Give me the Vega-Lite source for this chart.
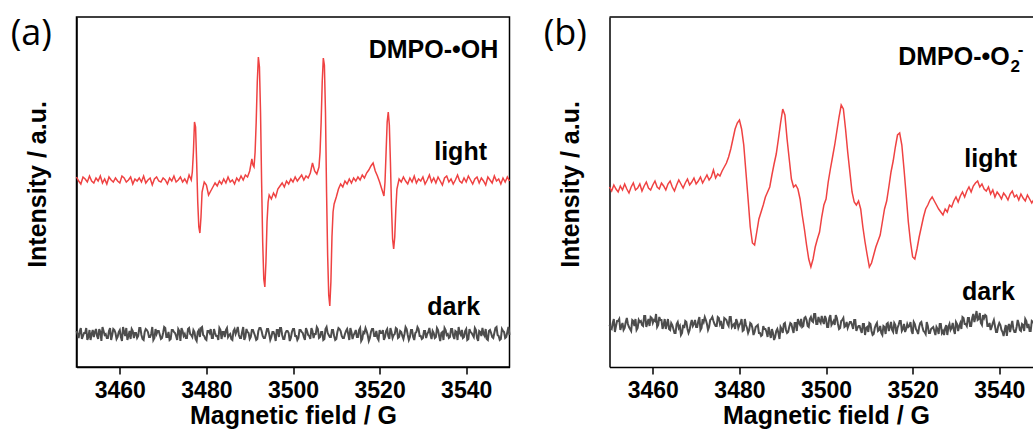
{
"$schema": "https://vega.github.io/schema/vega-lite/v6.json",
"background": "white",
"padding": {"left": 9.5, "top": 15, "right": 0, "bottom": 0},
"autosize": {"type": "pad"},
"spacing": 100,
"bounds": "flush",
"config": {
  "font": "Liberation Sans",
  "view": {"stroke": null},
  "axis": {"grid": false, "domainColor": "black", "domainWidth": 1.5, "tickColor": "black", "tickWidth": 1.5, "labelColor": "black", "titleColor": "black", "titleFont": "Liberation Sans", "labelFont": "Liberation Sans", "titleFontSize": 25, "titleFontWeight": "bold", "labelFontSize": 23, "labelFontWeight": "bold"},
  "axisX": {"tickSize": 7, "labelPadding": 5, "titleY": 36, "titleX": 216.5, "titleAlign": "center", "titleBaseline": "top"},
  "axisY": {"labels": false, "ticks": false, "titleX": -26, "titleY": 167, "titleBaseline": "bottom", "titleAlign": "center", "titleAngle": -90}
},
"datasets": {
"aL": [{"x":3450,"y":190},{"x":3450.5,"y":186},{"x":3451,"y":183},{"x":3451.5,"y":190},{"x":3452,"y":188},{"x":3452.5,"y":185},{"x":3453,"y":191},{"x":3453.5,"y":186},{"x":3454,"y":184},{"x":3454.5,"y":189},{"x":3455,"y":186},{"x":3455.5,"y":191},{"x":3456,"y":184},{"x":3456.5,"y":188},{"x":3457,"y":183},{"x":3457.5,"y":190},{"x":3458,"y":187},{"x":3458.5,"y":185},{"x":3459,"y":189},{"x":3459.5,"y":186},{"x":3460,"y":184},{"x":3460.5,"y":191},{"x":3461,"y":189},{"x":3461.5,"y":185},{"x":3462,"y":187},{"x":3462.5,"y":190},{"x":3463,"y":183},{"x":3463.5,"y":188},{"x":3464,"y":186},{"x":3464.5,"y":189},{"x":3465,"y":185},{"x":3465.5,"y":191},{"x":3466,"y":184},{"x":3466.5,"y":187},{"x":3467,"y":189},{"x":3467.5,"y":182},{"x":3468,"y":188},{"x":3468.5,"y":190},{"x":3469,"y":186},{"x":3469.5,"y":185},{"x":3470,"y":189},{"x":3470.5,"y":187},{"x":3471,"y":183},{"x":3471.5,"y":189},{"x":3472,"y":186},{"x":3472.5,"y":191},{"x":3473,"y":185},{"x":3473.5,"y":187},{"x":3474,"y":190},{"x":3474.5,"y":185},{"x":3475,"y":188},{"x":3475.5,"y":184},{"x":3476,"y":192},{"x":3476.5,"y":187},{"x":3476.75,"y":195},{"x":3477,"y":215},{"x":3477.25,"y":245},{"x":3477.5,"y":240},{"x":3477.75,"y":205},{"x":3478,"y":165},{"x":3478.25,"y":140},{"x":3478.5,"y":134},{"x":3478.75,"y":150},{"x":3479,"y":175},{"x":3479.5,"y":185},{"x":3480,"y":182},{"x":3480.5,"y":172},{"x":3481,"y":176},{"x":3481.5,"y":180},{"x":3482,"y":184},{"x":3482.5,"y":181},{"x":3483,"y":186},{"x":3483.5,"y":183},{"x":3484,"y":188},{"x":3484.5,"y":184},{"x":3485,"y":190},{"x":3485.5,"y":185},{"x":3486,"y":187},{"x":3486.5,"y":183},{"x":3487,"y":189},{"x":3487.5,"y":186},{"x":3488,"y":191},{"x":3488.5,"y":187},{"x":3489,"y":192},{"x":3489.5,"y":190},{"x":3490,"y":196},{"x":3490.5,"y":208},{"x":3490.75,"y":202},{"x":3491,"y":200},{"x":3491.25,"y":215},{"x":3491.5,"y":245},{"x":3491.75,"y":285},{"x":3492,"y":310},{"x":3492.25,"y":300},{"x":3492.5,"y":255},{"x":3492.75,"y":185},{"x":3493,"y":125},{"x":3493.25,"y":88},{"x":3493.5,"y":80},{"x":3493.75,"y":105},{"x":3494,"y":145},{"x":3494.25,"y":165},{"x":3494.5,"y":172},{"x":3495,"y":168},{"x":3495.5,"y":174},{"x":3496,"y":170},{"x":3496.5,"y":178},{"x":3497,"y":181},{"x":3497.5,"y":184},{"x":3498,"y":180},{"x":3498.5,"y":186},{"x":3499,"y":183},{"x":3499.5,"y":188},{"x":3500,"y":185},{"x":3500.5,"y":190},{"x":3501,"y":186},{"x":3501.5,"y":189},{"x":3502,"y":192},{"x":3502.5,"y":187},{"x":3503,"y":191},{"x":3503.5,"y":189},{"x":3504,"y":194},{"x":3504.5,"y":204},{"x":3505,"y":196},{"x":3505.5,"y":193},{"x":3506,"y":200},{"x":3506.25,"y":215},{"x":3506.5,"y":245},{"x":3506.75,"y":285},{"x":3507,"y":309},{"x":3507.25,"y":302},{"x":3507.5,"y":255},{"x":3507.75,"y":175},{"x":3508,"y":112},{"x":3508.25,"y":72},{"x":3508.5,"y":61},{"x":3508.75,"y":85},{"x":3509,"y":130},{"x":3509.25,"y":155},{"x":3509.5,"y":163},{"x":3510,"y":170},{"x":3510.5,"y":178},{"x":3511,"y":183},{"x":3511.5,"y":180},{"x":3512,"y":186},{"x":3512.5,"y":183},{"x":3513,"y":188},{"x":3513.5,"y":184},{"x":3514,"y":189},{"x":3514.5,"y":186},{"x":3515,"y":190},{"x":3515.5,"y":187},{"x":3516,"y":192},{"x":3516.5,"y":189},{"x":3517,"y":194},{"x":3517.5,"y":197},{"x":3518,"y":201},{"x":3518.5,"y":204},{"x":3519,"y":196},{"x":3519.5,"y":191},{"x":3520,"y":185},{"x":3520.5,"y":178},{"x":3521,"y":171},{"x":3521.25,"y":185},{"x":3521.5,"y":215},{"x":3521.75,"y":245},{"x":3522,"y":255},{"x":3522.25,"y":242},{"x":3522.5,"y":205},{"x":3522.75,"y":160},{"x":3523,"y":128},{"x":3523.25,"y":118},{"x":3523.5,"y":130},{"x":3523.75,"y":158},{"x":3524,"y":178},{"x":3524.5,"y":188},{"x":3525,"y":185},{"x":3525.5,"y":190},{"x":3526,"y":186},{"x":3526.5,"y":183},{"x":3527,"y":189},{"x":3527.5,"y":185},{"x":3528,"y":191},{"x":3528.5,"y":184},{"x":3529,"y":188},{"x":3529.5,"y":186},{"x":3530,"y":190},{"x":3530.5,"y":183},{"x":3531,"y":187},{"x":3531.5,"y":192},{"x":3532,"y":185},{"x":3532.5,"y":189},{"x":3533,"y":184},{"x":3533.5,"y":190},{"x":3534,"y":186},{"x":3534.5,"y":182},{"x":3535,"y":189},{"x":3535.5,"y":191},{"x":3536,"y":185},{"x":3536.5,"y":188},{"x":3537,"y":183},{"x":3537.5,"y":187},{"x":3538,"y":192},{"x":3538.5,"y":186},{"x":3539,"y":184},{"x":3539.5,"y":189},{"x":3540,"y":185},{"x":3540.5,"y":191},{"x":3541,"y":187},{"x":3541.5,"y":183},{"x":3542,"y":188},{"x":3542.5,"y":190},{"x":3543,"y":184},{"x":3543.5,"y":189},{"x":3544,"y":186},{"x":3544.5,"y":182},{"x":3545,"y":190},{"x":3545.5,"y":187},{"x":3546,"y":184},{"x":3546.5,"y":191},{"x":3547,"y":186},{"x":3547.5,"y":188},{"x":3548,"y":183},{"x":3548.5,"y":189},{"x":3549,"y":185},{"x":3549.5,"y":190},{"x":3550,"y":186}],
"aD": [{"x":3450,"y":36},{"x":3450.25,"y":33},{"x":3450.5,"y":29},{"x":3450.75,"y":36},{"x":3451,"y":39},{"x":3451.25,"y":28},{"x":3451.5,"y":31},{"x":3451.75,"y":34},{"x":3452,"y":34},{"x":3452.25,"y":39},{"x":3452.5,"y":27},{"x":3452.75,"y":30},{"x":3453,"y":37},{"x":3453.25,"y":27},{"x":3453.5,"y":33},{"x":3453.75,"y":37},{"x":3454,"y":30},{"x":3454.25,"y":35},{"x":3454.5,"y":38},{"x":3454.75,"y":31},{"x":3455,"y":28},{"x":3455.25,"y":38},{"x":3455.5,"y":35},{"x":3455.75,"y":26},{"x":3456,"y":40},{"x":3456.25,"y":36},{"x":3456.5,"y":32},{"x":3456.75,"y":33},{"x":3457,"y":29},{"x":3457.25,"y":29},{"x":3457.5,"y":36},{"x":3457.75,"y":39},{"x":3458,"y":27},{"x":3458.25,"y":32},{"x":3458.5,"y":38},{"x":3458.75,"y":37},{"x":3459,"y":34},{"x":3459.25,"y":28},{"x":3459.5,"y":30},{"x":3459.75,"y":35},{"x":3460,"y":37},{"x":3460.25,"y":30},{"x":3460.5,"y":26},{"x":3460.75,"y":40},{"x":3461,"y":35},{"x":3461.25,"y":31},{"x":3461.5,"y":39},{"x":3461.75,"y":27},{"x":3462,"y":31},{"x":3462.25,"y":36},{"x":3462.5,"y":28},{"x":3462.75,"y":38},{"x":3463,"y":36},{"x":3463.25,"y":29},{"x":3463.5,"y":34},{"x":3463.75,"y":34},{"x":3464,"y":29},{"x":3464.25,"y":31},{"x":3464.5,"y":39},{"x":3464.75,"y":39},{"x":3465,"y":32},{"x":3465.25,"y":28},{"x":3465.5,"y":27},{"x":3465.75,"y":35},{"x":3466,"y":38},{"x":3466.25,"y":37},{"x":3466.5,"y":35},{"x":3466.75,"y":30},{"x":3467,"y":30},{"x":3467.25,"y":33},{"x":3467.5,"y":40},{"x":3467.75,"y":27},{"x":3468,"y":29},{"x":3468.25,"y":38},{"x":3468.5,"y":33},{"x":3468.75,"y":36},{"x":3469,"y":36},{"x":3469.25,"y":32},{"x":3469.5,"y":28},{"x":3469.75,"y":29},{"x":3470,"y":34},{"x":3470.25,"y":40},{"x":3470.5,"y":39},{"x":3470.75,"y":30},{"x":3471,"y":30},{"x":3471.25,"y":35},{"x":3471.5,"y":27},{"x":3471.75,"y":28},{"x":3472,"y":37},{"x":3472.25,"y":37},{"x":3472.5,"y":35},{"x":3472.75,"y":34},{"x":3473,"y":31},{"x":3473.25,"y":27},{"x":3473.5,"y":38},{"x":3473.75,"y":36},{"x":3474,"y":26},{"x":3474.25,"y":39},{"x":3474.5,"y":36},{"x":3474.75,"y":31},{"x":3475,"y":33},{"x":3475.25,"y":29},{"x":3475.5,"y":29},{"x":3475.75,"y":38},{"x":3476,"y":39},{"x":3476.25,"y":33},{"x":3476.5,"y":32},{"x":3476.75,"y":30},{"x":3477,"y":37},{"x":3477.25,"y":35},{"x":3477.5,"y":28},{"x":3477.75,"y":26},{"x":3478,"y":35},{"x":3478.25,"y":37},{"x":3478.5,"y":30},{"x":3478.75,"y":39},{"x":3479,"y":40},{"x":3479.25,"y":32},{"x":3479.5,"y":31},{"x":3479.75,"y":28},{"x":3480,"y":27},{"x":3480.25,"y":36},{"x":3480.5,"y":36},{"x":3480.75,"y":34},{"x":3481,"y":38},{"x":3481.25,"y":29},{"x":3481.5,"y":29},{"x":3481.75,"y":38},{"x":3482,"y":34},{"x":3482.25,"y":31},{"x":3482.5,"y":31},{"x":3482.75,"y":27},{"x":3483,"y":39},{"x":3483.25,"y":37},{"x":3483.5,"y":28},{"x":3483.75,"y":35},{"x":3484,"y":35},{"x":3484.25,"y":30},{"x":3484.5,"y":37},{"x":3484.75,"y":39},{"x":3485,"y":30},{"x":3485.25,"y":32},{"x":3485.5,"y":33},{"x":3485.75,"y":28},{"x":3486,"y":27},{"x":3486.25,"y":36},{"x":3486.5,"y":38},{"x":3486.75,"y":33},{"x":3487,"y":36},{"x":3487.25,"y":40},{"x":3487.5,"y":32},{"x":3487.75,"y":29},{"x":3488,"y":29},{"x":3488.25,"y":35},{"x":3488.5,"y":40},{"x":3488.75,"y":27},{"x":3489,"y":30},{"x":3489.25,"y":38},{"x":3489.5,"y":35},{"x":3489.75,"y":34},{"x":3490,"y":28},{"x":3490.25,"y":30},{"x":3490.5,"y":37},{"x":3490.75,"y":37},{"x":3491,"y":34},{"x":3491.25,"y":31},{"x":3491.5,"y":27},{"x":3491.75,"y":28},{"x":3492,"y":36},{"x":3492.25,"y":39},{"x":3492.5,"y":39},{"x":3492.75,"y":36},{"x":3493,"y":31},{"x":3493.25,"y":29},{"x":3493.5,"y":29},{"x":3493.75,"y":33},{"x":3494,"y":38},{"x":3494.25,"y":38},{"x":3494.5,"y":33},{"x":3494.75,"y":27},{"x":3495,"y":30},{"x":3495.25,"y":35},{"x":3495.5,"y":35},{"x":3495.75,"y":32},{"x":3496,"y":26},{"x":3496.25,"y":37},{"x":3496.5,"y":37},{"x":3496.75,"y":30},{"x":3497,"y":39},{"x":3497.25,"y":39},{"x":3497.5,"y":32},{"x":3497.75,"y":28},{"x":3498,"y":28},{"x":3498.25,"y":34},{"x":3498.5,"y":36},{"x":3498.75,"y":36},{"x":3499,"y":34},{"x":3499.25,"y":26},{"x":3499.5,"y":29},{"x":3499.75,"y":35},{"x":3500,"y":38},{"x":3500.25,"y":38},{"x":3500.5,"y":31},{"x":3500.75,"y":31},{"x":3501,"y":27},{"x":3501.25,"y":29},{"x":3501.5,"y":37},{"x":3501.75,"y":37},{"x":3502,"y":35},{"x":3502.25,"y":34},{"x":3502.5,"y":30},{"x":3502.75,"y":27},{"x":3503,"y":39},{"x":3503.25,"y":36},{"x":3503.5,"y":32},{"x":3503.75,"y":31},{"x":3504,"y":28},{"x":3504.25,"y":39},{"x":3504.5,"y":36},{"x":3504.75,"y":29},{"x":3505,"y":33},{"x":3505.25,"y":33},{"x":3505.5,"y":40},{"x":3505.75,"y":38},{"x":3506,"y":29},{"x":3506.25,"y":30},{"x":3506.5,"y":35},{"x":3506.75,"y":35},{"x":3507,"y":27},{"x":3507.25,"y":28},{"x":3507.5,"y":38},{"x":3507.75,"y":40},{"x":3508,"y":34},{"x":3508.25,"y":32},{"x":3508.5,"y":30},{"x":3508.75,"y":30},{"x":3509,"y":37},{"x":3509.25,"y":37},{"x":3509.5,"y":31},{"x":3509.75,"y":27},{"x":3510,"y":28},{"x":3510.25,"y":35},{"x":3510.5,"y":39},{"x":3510.75,"y":38},{"x":3511,"y":36},{"x":3511.25,"y":31},{"x":3511.5,"y":29},{"x":3511.75,"y":29},{"x":3512,"y":33},{"x":3512.25,"y":36},{"x":3512.5,"y":38},{"x":3512.75,"y":33},{"x":3513,"y":27},{"x":3513.25,"y":39},{"x":3513.5,"y":35},{"x":3513.75,"y":28},{"x":3514,"y":32},{"x":3514.25,"y":34},{"x":3514.5,"y":37},{"x":3514.75,"y":30},{"x":3515,"y":30},{"x":3515.25,"y":37},{"x":3515.5,"y":39},{"x":3515.75,"y":26},{"x":3516,"y":28},{"x":3516.25,"y":35},{"x":3516.5,"y":34},{"x":3516.75,"y":39},{"x":3517,"y":36},{"x":3517.25,"y":32},{"x":3517.5,"y":26},{"x":3517.75,"y":29},{"x":3518,"y":35},{"x":3518.25,"y":38},{"x":3518.5,"y":38},{"x":3518.75,"y":31},{"x":3519,"y":31},{"x":3519.25,"y":36},{"x":3519.5,"y":29},{"x":3519.75,"y":27},{"x":3520,"y":37},{"x":3520.25,"y":34},{"x":3520.5,"y":34},{"x":3520.75,"y":37},{"x":3521,"y":27},{"x":3521.25,"y":30},{"x":3521.5,"y":36},{"x":3521.75,"y":38},{"x":3522,"y":31},{"x":3522.25,"y":28},{"x":3522.5,"y":39},{"x":3522.75,"y":35},{"x":3523,"y":29},{"x":3523.25,"y":32},{"x":3523.5,"y":33},{"x":3523.75,"y":39},{"x":3524,"y":38},{"x":3524.25,"y":29},{"x":3524.5,"y":30},{"x":3524.75,"y":36},{"x":3525,"y":35},{"x":3525.25,"y":31},{"x":3525.5,"y":28},{"x":3525.75,"y":33},{"x":3526,"y":40},{"x":3526.25,"y":38},{"x":3526.5,"y":32},{"x":3526.75,"y":27},{"x":3527,"y":30},{"x":3527.25,"y":37},{"x":3527.5,"y":37},{"x":3527.75,"y":30},{"x":3528,"y":27},{"x":3528.25,"y":34},{"x":3528.5,"y":35},{"x":3528.75,"y":40},{"x":3529,"y":38},{"x":3529.25,"y":31},{"x":3529.5,"y":31},{"x":3529.75,"y":28},{"x":3530,"y":29},{"x":3530.25,"y":36},{"x":3530.5,"y":36},{"x":3530.75,"y":29},{"x":3531,"y":33},{"x":3531.25,"y":35},{"x":3531.5,"y":39},{"x":3531.75,"y":32},{"x":3532,"y":28},{"x":3532.25,"y":36},{"x":3532.5,"y":34},{"x":3532.75,"y":29},{"x":3533,"y":30},{"x":3533.25,"y":39},{"x":3533.5,"y":37},{"x":3533.75,"y":31},{"x":3534,"y":26},{"x":3534.25,"y":34},{"x":3534.5,"y":35},{"x":3534.75,"y":27},{"x":3535,"y":39},{"x":3535.25,"y":37},{"x":3535.5,"y":32},{"x":3535.75,"y":33},{"x":3536,"y":29},{"x":3536.25,"y":30},{"x":3536.5,"y":38},{"x":3536.75,"y":38},{"x":3537,"y":31},{"x":3537.25,"y":28},{"x":3537.5,"y":36},{"x":3537.75,"y":35},{"x":3538,"y":27},{"x":3538.25,"y":40},{"x":3538.5,"y":34},{"x":3538.75,"y":32},{"x":3539,"y":37},{"x":3539.25,"y":29},{"x":3539.5,"y":30},{"x":3539.75,"y":36},{"x":3540,"y":38},{"x":3540.25,"y":27},{"x":3540.5,"y":28},{"x":3540.75,"y":38},{"x":3541,"y":35},{"x":3541.25,"y":34},{"x":3541.5,"y":32},{"x":3541.75,"y":30},{"x":3542,"y":39},{"x":3542.25,"y":37},{"x":3542.5,"y":29},{"x":3542.75,"y":26},{"x":3543,"y":36},{"x":3543.25,"y":35},{"x":3543.5,"y":31},{"x":3543.75,"y":39},{"x":3544,"y":33},{"x":3544.25,"y":31},{"x":3544.5,"y":38},{"x":3544.75,"y":28},{"x":3545,"y":27},{"x":3545.25,"y":36},{"x":3545.5,"y":37},{"x":3545.75,"y":34},{"x":3546,"y":30},{"x":3546.25,"y":29},{"x":3546.5,"y":34},{"x":3546.75,"y":39},{"x":3547,"y":40},{"x":3547.25,"y":32},{"x":3547.5,"y":31},{"x":3547.75,"y":27},{"x":3548,"y":28},{"x":3548.25,"y":38},{"x":3548.5,"y":36},{"x":3548.75,"y":35},{"x":3549,"y":29},{"x":3549.25,"y":30},{"x":3549.5,"y":35},{"x":3549.75,"y":40},{"x":3550,"y":32}],
"bL": [{"x":3450,"y":180},{"x":3450.5,"y":176},{"x":3451,"y":182},{"x":3451.5,"y":178},{"x":3452,"y":175},{"x":3452.5,"y":181},{"x":3453,"y":177},{"x":3453.5,"y":183},{"x":3454,"y":178},{"x":3454.5,"y":174},{"x":3455,"y":180},{"x":3455.5,"y":184},{"x":3456,"y":177},{"x":3456.5,"y":179},{"x":3457,"y":183},{"x":3457.5,"y":176},{"x":3458,"y":181},{"x":3458.5,"y":185},{"x":3459,"y":179},{"x":3459.5,"y":177},{"x":3460,"y":182},{"x":3460.5,"y":186},{"x":3461,"y":180},{"x":3461.5,"y":178},{"x":3462,"y":184},{"x":3462.5,"y":181},{"x":3463,"y":177},{"x":3463.5,"y":183},{"x":3464,"y":186},{"x":3464.5,"y":180},{"x":3465,"y":176},{"x":3465.5,"y":182},{"x":3466,"y":187},{"x":3466.5,"y":183},{"x":3467,"y":179},{"x":3467.5,"y":184},{"x":3468,"y":188},{"x":3468.5,"y":182},{"x":3469,"y":185},{"x":3469.5,"y":189},{"x":3470,"y":183},{"x":3470.5,"y":186},{"x":3471,"y":190},{"x":3471.5,"y":184},{"x":3472,"y":188},{"x":3472.5,"y":192},{"x":3473,"y":187},{"x":3473.5,"y":190},{"x":3474,"y":197},{"x":3474.5,"y":189},{"x":3475,"y":193},{"x":3475.5,"y":191},{"x":3476,"y":196},{"x":3476.5,"y":200},{"x":3477,"y":204},{"x":3477.5,"y":210},{"x":3478,"y":218},{"x":3478.5,"y":228},{"x":3479,"y":238},{"x":3479.5,"y":244},{"x":3480,"y":247},{"x":3480.5,"y":238},{"x":3481,"y":222},{"x":3481.5,"y":195},{"x":3482,"y":168},{"x":3482.5,"y":140},{"x":3483,"y":124},{"x":3483.5,"y":122},{"x":3484,"y":135},{"x":3484.5,"y":148},{"x":3485,"y":155},{"x":3485.5,"y":162},{"x":3486,"y":170},{"x":3486.5,"y":175},{"x":3487,"y":180},{"x":3487.5,"y":192},{"x":3488,"y":203},{"x":3488.5,"y":213},{"x":3489,"y":228},{"x":3489.5,"y":244},{"x":3490,"y":258},{"x":3490.5,"y":252},{"x":3491,"y":228},{"x":3491.5,"y":208},{"x":3492,"y":188},{"x":3492.5,"y":180},{"x":3493,"y":182},{"x":3493.5,"y":178},{"x":3494,"y":168},{"x":3494.5,"y":152},{"x":3495,"y":138},{"x":3495.5,"y":122},{"x":3496,"y":108},{"x":3496.5,"y":100},{"x":3497,"y":108},{"x":3497.5,"y":120},{"x":3498,"y":128},{"x":3498.5,"y":135},{"x":3499,"y":150},{"x":3499.5,"y":162},{"x":3500,"y":168},{"x":3500.5,"y":185},{"x":3501,"y":198},{"x":3501.5,"y":210},{"x":3502,"y":222},{"x":3502.5,"y":236},{"x":3503,"y":250},{"x":3503.5,"y":262},{"x":3504,"y":258},{"x":3504.5,"y":238},{"x":3505,"y":215},{"x":3505.5,"y":195},{"x":3506,"y":175},{"x":3506.5,"y":165},{"x":3507,"y":162},{"x":3507.5,"y":166},{"x":3508,"y":158},{"x":3508.5,"y":140},{"x":3509,"y":125},{"x":3509.5,"y":112},{"x":3510,"y":100},{"x":3510.5,"y":104},{"x":3511,"y":112},{"x":3511.5,"y":120},{"x":3512,"y":126},{"x":3512.5,"y":132},{"x":3513,"y":145},{"x":3513.5,"y":158},{"x":3514,"y":166},{"x":3514.5,"y":180},{"x":3515,"y":195},{"x":3515.5,"y":206},{"x":3516,"y":220},{"x":3516.5,"y":232},{"x":3517,"y":234},{"x":3517.5,"y":222},{"x":3518,"y":198},{"x":3518.5,"y":172},{"x":3519,"y":145},{"x":3519.5,"y":125},{"x":3520,"y":110},{"x":3520.5,"y":108},{"x":3521,"y":118},{"x":3521.5,"y":130},{"x":3522,"y":140},{"x":3522.5,"y":150},{"x":3523,"y":158},{"x":3523.5,"y":162},{"x":3524,"y":167},{"x":3524.5,"y":170},{"x":3525,"y":166},{"x":3525.5,"y":162},{"x":3526,"y":158},{"x":3526.5,"y":155},{"x":3527,"y":152},{"x":3527.5,"y":158},{"x":3528,"y":155},{"x":3528.5,"y":162},{"x":3529,"y":160},{"x":3529.5,"y":166},{"x":3530,"y":170},{"x":3530.5,"y":165},{"x":3531,"y":171},{"x":3531.5,"y":175},{"x":3532,"y":170},{"x":3532.5,"y":176},{"x":3533,"y":180},{"x":3533.5,"y":175},{"x":3534,"y":181},{"x":3534.5,"y":184},{"x":3535,"y":186},{"x":3535.5,"y":180},{"x":3536,"y":183},{"x":3536.5,"y":178},{"x":3537,"y":176},{"x":3537.5,"y":180},{"x":3538,"y":173},{"x":3538.5,"y":177},{"x":3539,"y":170},{"x":3539.5,"y":175},{"x":3540,"y":172},{"x":3540.5,"y":168},{"x":3541,"y":174},{"x":3541.5,"y":171},{"x":3542,"y":167},{"x":3542.5,"y":173},{"x":3543,"y":176},{"x":3543.5,"y":170},{"x":3544,"y":172},{"x":3544.5,"y":167},{"x":3545,"y":173},{"x":3545.5,"y":169},{"x":3546,"y":166},{"x":3546.5,"y":172},{"x":3547,"y":168},{"x":3547.5,"y":164},{"x":3547.9,"y":167}],
"bD": [{"x":3450,"y":42},{"x":3450.25,"y":39},{"x":3450.5,"y":38},{"x":3450.75,"y":44},{"x":3451,"y":48},{"x":3451.25,"y":35},{"x":3451.5,"y":41},{"x":3451.75,"y":46},{"x":3452,"y":46},{"x":3452.25,"y":48},{"x":3452.5,"y":37},{"x":3452.75,"y":41},{"x":3453,"y":44},{"x":3453.25,"y":37},{"x":3453.5,"y":39},{"x":3453.75,"y":45},{"x":3454,"y":49},{"x":3454.25,"y":43},{"x":3454.5,"y":40},{"x":3454.75,"y":38},{"x":3455,"y":36},{"x":3455.25,"y":47},{"x":3455.5,"y":46},{"x":3455.75,"y":41},{"x":3456,"y":48},{"x":3456.25,"y":37},{"x":3456.5,"y":39},{"x":3456.75,"y":47},{"x":3457,"y":45},{"x":3457.25,"y":46},{"x":3457.5,"y":42},{"x":3457.75,"y":41},{"x":3458,"y":51},{"x":3458.25,"y":51},{"x":3458.5,"y":40},{"x":3458.75,"y":44},{"x":3459,"y":48},{"x":3459.25,"y":41},{"x":3459.5,"y":50},{"x":3459.75,"y":49},{"x":3460,"y":44},{"x":3460.25,"y":47},{"x":3460.5,"y":46},{"x":3460.75,"y":53},{"x":3461,"y":40},{"x":3461.25,"y":42},{"x":3461.5,"y":50},{"x":3461.75,"y":47},{"x":3462,"y":47},{"x":3462.25,"y":38},{"x":3462.5,"y":42},{"x":3462.75,"y":48},{"x":3463,"y":38},{"x":3463.25,"y":43},{"x":3463.5,"y":48},{"x":3463.75,"y":38},{"x":3464,"y":37},{"x":3464.25,"y":44},{"x":3464.5,"y":42},{"x":3464.75,"y":38},{"x":3465,"y":34},{"x":3465.25,"y":34},{"x":3465.5,"y":43},{"x":3465.75,"y":45},{"x":3466,"y":39},{"x":3466.25,"y":41},{"x":3466.5,"y":32},{"x":3466.75,"y":34},{"x":3467,"y":42},{"x":3467.25,"y":39},{"x":3467.5,"y":46},{"x":3467.75,"y":45},{"x":3468,"y":38},{"x":3468.25,"y":34},{"x":3468.5,"y":37},{"x":3468.75,"y":43},{"x":3469,"y":47},{"x":3469.25,"y":41},{"x":3469.5,"y":43},{"x":3469.75,"y":47},{"x":3470,"y":40},{"x":3470.25,"y":40},{"x":3470.5,"y":46},{"x":3470.75,"y":50},{"x":3471,"y":37},{"x":3471.25,"y":39},{"x":3471.5,"y":48},{"x":3471.75,"y":45},{"x":3472,"y":50},{"x":3472.25,"y":47},{"x":3472.5,"y":43},{"x":3472.75,"y":37},{"x":3473,"y":40},{"x":3473.25,"y":47},{"x":3473.5,"y":48},{"x":3473.75,"y":50},{"x":3474,"y":46},{"x":3474.25,"y":43},{"x":3474.5,"y":41},{"x":3474.75,"y":41},{"x":3475,"y":50},{"x":3475.25,"y":49},{"x":3475.5,"y":43},{"x":3475.75,"y":46},{"x":3476,"y":39},{"x":3476.25,"y":39},{"x":3476.5,"y":49},{"x":3476.75,"y":48},{"x":3477,"y":47},{"x":3477.25,"y":43},{"x":3477.5,"y":41},{"x":3477.75,"y":50},{"x":3478,"y":50},{"x":3478.25,"y":40},{"x":3478.5,"y":42},{"x":3478.75,"y":43},{"x":3479,"y":38},{"x":3479.25,"y":48},{"x":3479.5,"y":45},{"x":3479.75,"y":39},{"x":3480,"y":42},{"x":3480.25,"y":44},{"x":3480.5,"y":48},{"x":3480.75,"y":36},{"x":3481,"y":37},{"x":3481.25,"y":48},{"x":3481.5,"y":42},{"x":3481.75,"y":39},{"x":3482,"y":34},{"x":3482.25,"y":37},{"x":3482.5,"y":44},{"x":3482.75,"y":43},{"x":3483,"y":39},{"x":3483.25,"y":32},{"x":3483.5,"y":35},{"x":3483.75,"y":40},{"x":3484,"y":41},{"x":3484.25,"y":42},{"x":3484.5,"y":34},{"x":3484.75,"y":34},{"x":3485,"y":31},{"x":3485.25,"y":32},{"x":3485.5,"y":41},{"x":3485.75,"y":38},{"x":3486,"y":38},{"x":3486.25,"y":35},{"x":3486.5,"y":30},{"x":3486.75,"y":40},{"x":3487,"y":34},{"x":3487.25,"y":29},{"x":3487.5,"y":38},{"x":3487.75,"y":34},{"x":3488,"y":27},{"x":3488.25,"y":30},{"x":3488.5,"y":36},{"x":3488.75,"y":38},{"x":3489,"y":34},{"x":3489.25,"y":28},{"x":3489.5,"y":40},{"x":3489.75,"y":38},{"x":3490,"y":34},{"x":3490.25,"y":43},{"x":3490.5,"y":44},{"x":3490.75,"y":37},{"x":3491,"y":34},{"x":3491.25,"y":35},{"x":3491.5,"y":40},{"x":3491.75,"y":44},{"x":3492,"y":43},{"x":3492.25,"y":38},{"x":3492.5,"y":34},{"x":3492.75,"y":44},{"x":3493,"y":44},{"x":3493.25,"y":36},{"x":3493.5,"y":48},{"x":3493.75,"y":44},{"x":3494,"y":42},{"x":3494.25,"y":48},{"x":3494.5,"y":40},{"x":3494.75,"y":41},{"x":3495,"y":49},{"x":3495.25,"y":50},{"x":3495.5,"y":47},{"x":3495.75,"y":41},{"x":3496,"y":40},{"x":3496.25,"y":48},{"x":3496.5,"y":50},{"x":3496.75,"y":46},{"x":3497,"y":45},{"x":3497.25,"y":53},{"x":3497.5,"y":53},{"x":3497.75,"y":43},{"x":3498,"y":43},{"x":3498.25,"y":50},{"x":3498.5,"y":46},{"x":3498.75,"y":44},{"x":3499,"y":51},{"x":3499.25,"y":46},{"x":3499.5,"y":43},{"x":3499.75,"y":51},{"x":3500,"y":48},{"x":3500.25,"y":40},{"x":3500.5,"y":40},{"x":3500.75,"y":49},{"x":3501,"y":52},{"x":3501.25,"y":42},{"x":3501.5,"y":44},{"x":3501.75,"y":46},{"x":3502,"y":42},{"x":3502.25,"y":52},{"x":3502.5,"y":49},{"x":3502.75,"y":43},{"x":3503,"y":38},{"x":3503.25,"y":39},{"x":3503.5,"y":46},{"x":3503.75,"y":47},{"x":3504,"y":49},{"x":3504.25,"y":40},{"x":3504.5,"y":41},{"x":3504.75,"y":45},{"x":3505,"y":39},{"x":3505.25,"y":42},{"x":3505.5,"y":45},{"x":3505.75,"y":45},{"x":3506,"y":42},{"x":3506.25,"y":38},{"x":3506.5,"y":47},{"x":3506.75,"y":47},{"x":3507,"y":36},{"x":3507.25,"y":39},{"x":3507.5,"y":41},{"x":3507.75,"y":41},{"x":3508,"y":37},{"x":3508.25,"y":34},{"x":3508.5,"y":43},{"x":3508.75,"y":43},{"x":3509,"y":32},{"x":3509.25,"y":39},{"x":3509.5,"y":40},{"x":3509.75,"y":35},{"x":3510,"y":44},{"x":3510.25,"y":43},{"x":3510.5,"y":36},{"x":3510.75,"y":32},{"x":3511,"y":33},{"x":3511.25,"y":39},{"x":3511.5,"y":42},{"x":3511.75,"y":44},{"x":3512,"y":36},{"x":3512.25,"y":37},{"x":3512.5,"y":41},{"x":3512.75,"y":34},{"x":3513,"y":32},{"x":3513.25,"y":41},{"x":3513.5,"y":40},{"x":3513.75,"y":33},{"x":3514,"y":43},{"x":3514.25,"y":44},{"x":3514.5,"y":36},{"x":3514.75,"y":40},{"x":3515,"y":45},{"x":3515.25,"y":37},{"x":3515.5,"y":35},{"x":3515.75,"y":44},{"x":3516,"y":42},{"x":3516.25,"y":33},{"x":3516.5,"y":39},{"x":3516.75,"y":42},{"x":3517,"y":46},{"x":3517.25,"y":46},{"x":3517.5,"y":36},{"x":3517.75,"y":38},{"x":3518,"y":43},{"x":3518.25,"y":35},{"x":3518.5,"y":38},{"x":3518.75,"y":43},{"x":3519,"y":40},{"x":3519.25,"y":41},{"x":3519.5,"y":45},{"x":3519.75,"y":36},{"x":3520,"y":33},{"x":3520.25,"y":45},{"x":3520.5,"y":43},{"x":3520.75,"y":38},{"x":3521,"y":36},{"x":3521.25,"y":33},{"x":3521.5,"y":40},{"x":3521.75,"y":44},{"x":3522,"y":45},{"x":3522.25,"y":40},{"x":3522.5,"y":36},{"x":3522.75,"y":35},{"x":3523,"y":33},{"x":3523.25,"y":45},{"x":3523.5,"y":41},{"x":3523.75,"y":34},{"x":3524,"y":34},{"x":3524.25,"y":38},{"x":3524.5,"y":39},{"x":3524.75,"y":40},{"x":3525,"y":36},{"x":3525.25,"y":32},{"x":3525.5,"y":40},{"x":3525.75,"y":38},{"x":3526,"y":33},{"x":3526.25,"y":43},{"x":3526.5,"y":43},{"x":3526.75,"y":34},{"x":3527,"y":36},{"x":3527.25,"y":32},{"x":3527.5,"y":39},{"x":3527.75,"y":42},{"x":3528,"y":32},{"x":3528.25,"y":40},{"x":3528.5,"y":43},{"x":3528.75,"y":37},{"x":3529,"y":39},{"x":3529.25,"y":44},{"x":3529.5,"y":37},{"x":3529.75,"y":33},{"x":3530,"y":45},{"x":3530.25,"y":43},{"x":3530.5,"y":36},{"x":3530.75,"y":41},{"x":3531,"y":44},{"x":3531.25,"y":38},{"x":3531.5,"y":50},{"x":3531.75,"y":49},{"x":3532,"y":43},{"x":3532.25,"y":43},{"x":3532.5,"y":41},{"x":3532.75,"y":49},{"x":3533,"y":49},{"x":3533.25,"y":41},{"x":3533.5,"y":41},{"x":3533.75,"y":49},{"x":3534,"y":53},{"x":3534.25,"y":45},{"x":3534.5,"y":50},{"x":3534.75,"y":56},{"x":3535,"y":47},{"x":3535.25,"y":48},{"x":3535.5,"y":54},{"x":3535.75,"y":44},{"x":3536,"y":42},{"x":3536.25,"y":52},{"x":3536.5,"y":49},{"x":3536.75,"y":52},{"x":3537,"y":51},{"x":3537.25,"y":41},{"x":3537.5,"y":41},{"x":3537.75,"y":44},{"x":3538,"y":37},{"x":3538.25,"y":40},{"x":3538.5,"y":44},{"x":3538.75,"y":47},{"x":3539,"y":41},{"x":3539.25,"y":35},{"x":3539.5,"y":35},{"x":3539.75,"y":41},{"x":3540,"y":44},{"x":3540.25,"y":42},{"x":3540.5,"y":37},{"x":3540.75,"y":35},{"x":3541,"y":31},{"x":3541.25,"y":37},{"x":3541.5,"y":42},{"x":3541.75,"y":31},{"x":3542,"y":40},{"x":3542.25,"y":43},{"x":3542.5,"y":35},{"x":3542.75,"y":41},{"x":3543,"y":46},{"x":3543.25,"y":38},{"x":3543.5,"y":35},{"x":3543.75,"y":35},{"x":3544,"y":40},{"x":3544.25,"y":47},{"x":3544.5,"y":43},{"x":3544.75,"y":37},{"x":3545,"y":36},{"x":3545.25,"y":43},{"x":3545.5,"y":42},{"x":3545.75,"y":36},{"x":3546,"y":48},{"x":3546.25,"y":46},{"x":3546.5,"y":39},{"x":3546.75,"y":43},{"x":3547,"y":36},{"x":3547.25,"y":36},{"x":3547.5,"y":46},{"x":3547.75,"y":45},{"x":3547.9,"y":44}]
},
"hconcat": [
{
  "width": 433, "height": 350,
  "view": {"stroke": "black", "strokeWidth": 1.5},
  "layer": [
    {"data": {"name": "aL"}, "mark": {"type": "line", "color": "#ef4242", "strokeWidth": 1.5},
     "encoding": {
       "x": {"field": "x", "type": "quantitative", "scale": {"domain": [3450, 3550], "nice": false, "zero": false},
             "axis": {"title": "Magnetic field / G", "values": [3460, 3480, 3500, 3520, 3540], "format": "d"}},
       "y": {"field": "y", "type": "quantitative", "scale": {"domain": [0, 350], "nice": false, "zero": false},
             "axis": {"title": "Intensity / a.u."}}
     }},
    {"data": {"name": "aD"}, "mark": {"type": "line", "color": "#4d4d4d", "strokeWidth": 2},
     "encoding": {"x": {"field": "x", "type": "quantitative"}, "y": {"field": "y", "type": "quantitative"}}},
    {"data": {"values": [{"x": 3547.4, "y": 309, "t": "DMPO-•OH"}, {"x": 3544.8, "y": 207, "t": "light"}, {"x": 3543.2, "y": 52, "t": "dark"}]},
     "mark": {"type": "text", "align": "right", "baseline": "alphabetic", "fontSize": 25, "fontWeight": "bold", "font": "Liberation Sans", "color": "black"},
     "encoding": {"x": {"field": "x", "type": "quantitative"}, "y": {"field": "y", "type": "quantitative"}, "text": {"field": "t"}}},
    {"data": {"values": [{"x": 3434.8, "y": 322, "t": "(a)"}]},
     "mark": {"type": "text", "align": "left", "baseline": "alphabetic", "fontSize": 36, "font": "Open Sans", "color": "black"},
     "encoding": {"x": {"field": "x", "type": "quantitative"}, "y": {"field": "y", "type": "quantitative"}, "text": {"field": "t"}}}
  ]
},
{
  "width": 424, "height": 350,
  "view": {"stroke": null},
  "layer": [
    {"data": {"name": "bL"}, "mark": {"type": "line", "color": "#ef4242", "strokeWidth": 1.5},
     "encoding": {
       "x": {"field": "x", "type": "quantitative", "scale": {"domain": [3450, 3547.9], "nice": false, "zero": false},
             "axis": {"title": "Magnetic field / G", "values": [3460, 3480, 3500, 3520, 3540], "format": "d"}},
       "y": {"field": "y", "type": "quantitative", "scale": {"domain": [0, 350], "nice": false, "zero": false},
             "axis": {"title": "Intensity / a.u."}}
     }},
    {"data": {"name": "bD"}, "mark": {"type": "line", "color": "#4d4d4d", "strokeWidth": 2},
     "encoding": {"x": {"field": "x", "type": "quantitative"}, "y": {"field": "y", "type": "quantitative"}}},
    {"data": {"values": [{}]}, "mark": {"type": "rule", "color": "black", "strokeWidth": 1.5},
     "encoding": {"y": {"datum": 350, "type": "quantitative"}}},
    {"data": {"values": [{"x": 3542.4, "y": 302, "t": "DMPO-•O"}, {"x": 3544.1, "y": 200, "t": "light"}, {"x": 3543.6, "y": 67, "t": "dark"}]},
     "mark": {"type": "text", "align": "right", "baseline": "alphabetic", "fontSize": 25, "fontWeight": "bold", "font": "Liberation Sans", "color": "black"},
     "encoding": {"x": {"field": "x", "type": "quantitative"}, "y": {"field": "y", "type": "quantitative"}, "text": {"field": "t"}}},
    {"data": {"values": [{"x": 3542.6, "y": 295, "t": "2"}]},
     "mark": {"type": "text", "align": "left", "baseline": "alphabetic", "fontSize": 17, "fontWeight": "bold", "font": "Liberation Sans", "color": "black"},
     "encoding": {"x": {"field": "x", "type": "quantitative"}, "y": {"field": "y", "type": "quantitative"}, "text": {"field": "t"}}},
    {"data": {"values": [{"x": 3544.9, "y": 312, "t": "-"}]},
     "mark": {"type": "text", "align": "center", "baseline": "alphabetic", "fontSize": 17, "fontWeight": "bold", "font": "Liberation Sans", "color": "black"},
     "encoding": {"x": {"field": "x", "type": "quantitative"}, "y": {"field": "y", "type": "quantitative"}, "text": {"field": "t"}}},
    {"data": {"values": [{"x": 3434.8, "y": 322, "t": "(b)"}]},
     "mark": {"type": "text", "align": "left", "baseline": "alphabetic", "fontSize": 36, "font": "Open Sans", "color": "black"},
     "encoding": {"x": {"field": "x", "type": "quantitative"}, "y": {"field": "y", "type": "quantitative"}, "text": {"field": "t"}}}
  ]
}
]
}
